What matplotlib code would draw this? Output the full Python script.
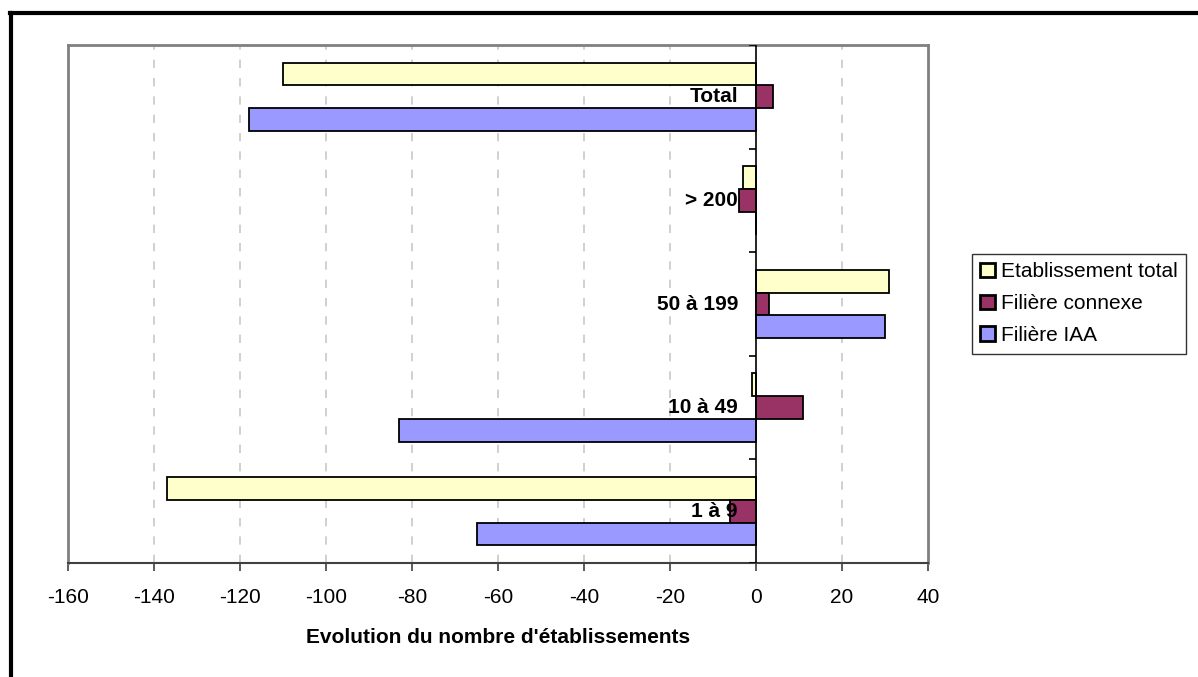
import numpy as np
import matplotlib
matplotlib.use('Agg')
import matplotlib.pyplot as plt
from matplotlib.lines import Line2D

plt.rcParams['font.family'] = ['Liberation Sans', 'DejaVu Sans']
plt.rcParams['axes.unicode_minus'] = False

# categories from bottom to top
categories = ['1 à 9', '10 à 49', '50 à 199', '> 200', 'Total']
etab_total = [-137, -1, 31, -3, -110]
filiere_connexe = [-6, 11, 3, -4, 4]
filiere_iaa = [-65, -83, 30, 0, -118]

series_names = ['Etablissement total', 'Filière connexe', 'Filière IAA']
colors = ['#FFFFCC', '#993366', '#9999FF']

fig = plt.figure(figsize=(11.98, 6.77), dpi=100)
ax = fig.add_axes([68 / 1198, 1 - 563 / 677, 860 / 1198, 518 / 677])

y = np.arange(len(categories))
h = 0.22
for vals, off, col, name in zip([etab_total, filiere_connexe, filiere_iaa],
                                [h, 0, -h], colors, series_names):
    ax.barh(y + off, vals, height=h, color=col, edgecolor='black',
            linewidth=1.3, label=name, zorder=3)

ax.set_xlim(-160, 40)
ax.set_ylim(-0.5, 4.5)
ax.set_xticks(np.arange(-160, 41, 20))
ax.tick_params(axis='x', labelsize=15, length=6, width=1.2, pad=12, color='#404040')
ax.set_yticks([])

# dashed vertical gridlines
for gx in np.arange(-140, 40, 20):
    if gx != 0:
        ax.axvline(gx, color='#c8c8c8', linestyle=(0, (5, 6)), linewidth=1.2, zorder=1)

# category axis at x = 0
ax.axvline(0, color='black', linewidth=1.2, zorder=4)
ax.hlines(np.arange(-0.5, 4.6, 1.0), -1.6, 0, color='black', linewidth=1.2, zorder=4)
for yi, cat in zip(y, categories):
    ax.text(-4.2, yi, cat, ha='right', va='center', fontsize=15,
            fontweight='bold', zorder=5)

for side in ['top', 'left', 'right']:
    ax.spines[side].set_color('#808080')
    ax.spines[side].set_linewidth(2)
ax.spines['bottom'].set_color('#404040')
ax.spines['bottom'].set_linewidth(1.5)

ax.set_xlabel("Evolution du nombre d'établissements", fontsize=15,
              fontweight='bold', labelpad=15)

leg = fig.legend(loc='upper left', bbox_to_anchor=(972 / 1198, 1 - 254 / 677),
                 fontsize=15, frameon=True, fancybox=False, edgecolor='black',
                 handlelength=0.72, handleheight=0.72, handletextpad=0.25,
                 borderpad=0.4, labelspacing=0.62, borderaxespad=0)
leg.get_frame().set_linewidth(1.0)
for p in leg.get_patches():
    p.set_linewidth(2)

# outer chart border (only top and left visible)
fig.add_artist(Line2D([11 / 1198, 11 / 1198], [0, 1 - 13 / 677], color='black',
                      linewidth=3, transform=fig.transFigure))
fig.add_artist(Line2D([10 / 1198, 1], [1 - 13 / 677, 1 - 13 / 677], color='black',
                      linewidth=3, transform=fig.transFigure))

fig.savefig('out.png', dpi=100)
